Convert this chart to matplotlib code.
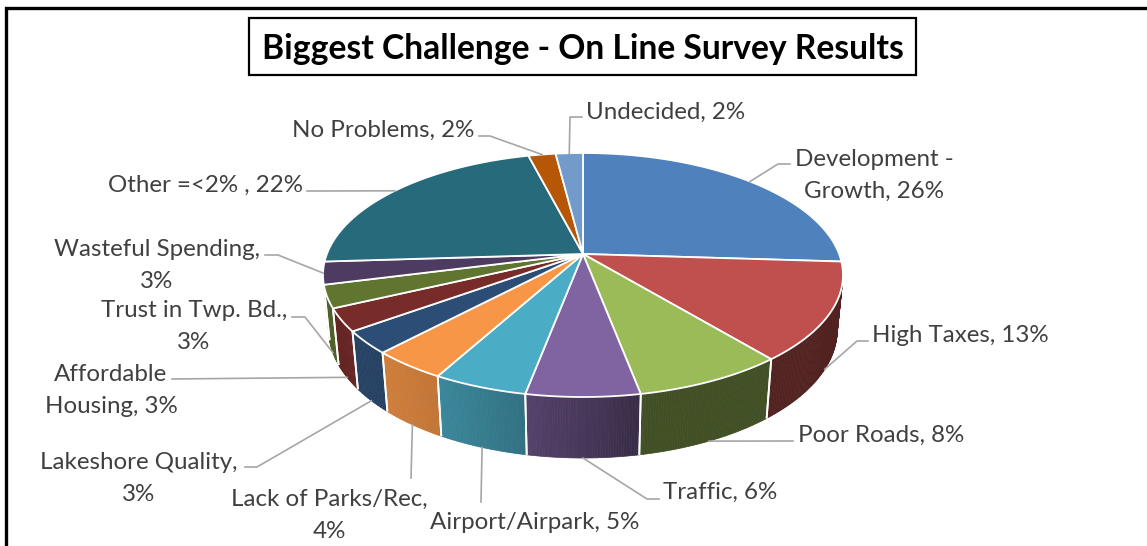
import numpy as np
import matplotlib
matplotlib.use("Agg")
import matplotlib.pyplot as plt
from matplotlib.patches import Polygon, Rectangle
from matplotlib.colors import to_rgb

# ---------------- data ----------------
categories = ["Development - Growth", "High Taxes", "Poor Roads", "Traffic",
              "Airport/Airpark", "Lack of Parks/Rec,", "Lakeshore Quality",
              "Affordable Housing", "Trust in Twp. Bd.", "Wasteful Spending",
              "Other =<2% ", "No Problems", "Undecided"]
shares = [26, 13, 8, 6, 5, 4, 3, 3, 3, 3, 22, 2, 2]
title = "Biggest Challenge - On Line Survey Results"

# ---------------- style ----------------
colors = ["#4F81BD", "#C0504D", "#9BBB59", "#8064A2", "#4BACC6", "#F79646",
          "#2C4D75", "#772C2A", "#5F7530", "#4D3B62", "#276A7C", "#B65708",
          "#729ACA"]
TEXT_C = "#404040"
LEADER_C = "#A6A6A6"

# label layout: x, y of first line (pixels), alignment, words on first line
# (0 = single line), leader start point, optional leader elbow
label_layout = [
    (874, 157, "center", 2, (790, 164), (778, 164)),
    (872, 333, "left", 0, (868, 341), (857, 341)),
    (798, 433, "left", 0, (793, 441), None),
    (663, 490, "left", 0, (659, 499), (647, 499)),
    (535, 520, "center", 0, (481, 502), None),
    (329, 497, "center", 3, (411, 478), None),
    (139, 460, "center", 2, (245, 467), (257, 467)),
    (111, 372, "center", 1, (172, 379), None),
    (194, 308, "center", 4, (292, 317), (305, 317)),
    (157, 247, "center", 2, (265, 255), (278, 255)),
    (303, 183, "right", 0, (307, 191), (318, 191)),
    (474, 128, "right", 0, (479, 136), (490, 136)),
    (586, 110, "left", 0, (582, 117), (570, 117)),
]
LINE_PX = 32

# pie placement in pixels
CX, CY = 583, 254        # projected centre of the top face
TOP_Y, FRONT_Y = 153, 397
HALF_W = 260
BASE_Y = 458             # lower edge of the side wall at the front

plt.rcParams["font.family"] = ["Lato", "DejaVu Sans"]

fig = plt.figure(figsize=(11.47, 5.46), dpi=100)
ax = fig.add_axes([0, 0, 1, 1])
ax.set_xlim(0, 1147)
ax.set_ylim(546, 0)
ax.axis("off")
renderer = fig.canvas.get_renderer()


def fitted_size(text, width_px, **kw):
    t = fig.text(0, 0, text, fontsize=20, **kw)
    w = t.get_window_extent(renderer).width
    t.remove()
    return 20.0 * width_px / w


# ---- perspective camera solved from the placement ----
B = CY - TOP_Y
F = FRONT_Y - CY
r = B / F
s = np.sqrt(B * F) / HALF_W          # sin(elevation)
c = np.sqrt(1 - s * s)
D = c * (1 + r) / (1 - r)            # camera distance (unit radius)
K = HALF_W * np.sqrt(D * D - c * c)
G = BASE_Y - CY
h = (G * (D - c) - K * s) / (K * c - G * s)   # wall height


def project(theta, z, rad=1.0):
    x = rad * np.sin(theta)
    y = rad * np.cos(theta)
    v = y * s + z * c
    w = y * c - z * s + D
    return CX + K * x / w, CY - K * v / w


def shade(col, theta):
    f = max(0.42, 0.15 + 0.7 * np.cos(theta - np.radians(235)))
    return tuple(np.array(to_rgb(col)) * f)


fr = np.array(shares, float) / np.sum(shares)
edges = np.concatenate([[0.0], np.cumsum(fr)]) * 2 * np.pi
vis_lo = np.arccos(-1.0 / (D * c))
vis_hi = 2 * np.pi - vis_lo

# side wall
for i in range(len(shares)):
    a0, a1 = edges[i], edges[i + 1]
    lo, hi = max(a0, vis_lo), min(a1, vis_hi)
    if hi <= lo:
        continue
    n = max(2, int(np.degrees(hi - lo) / 0.5))
    ts = np.linspace(lo, hi, n + 1)
    for t0, t1 in zip(ts[:-1], ts[1:]):
        quad = [project(t0, 0), project(t1, 0), project(t1, -h), project(t0, -h)]
        col = shade(colors[i], 0.5 * (t0 + t1))
        ax.add_patch(Polygon(quad, closed=True, fc=col, ec=col, lw=0.5, zorder=2))
    for a in (a0, a1):
        if vis_lo < a < vis_hi:
            p, q = project(a, 0), project(a, -h)
            ax.plot([p[0], q[0]], [p[1], q[1]], color="white", lw=1.3,
                    zorder=3, solid_capstyle="butt")

# top face
for i in range(len(shares)):
    a0, a1 = edges[i], edges[i + 1]
    n = max(3, int(np.degrees(a1 - a0) / 0.5))
    ts = np.linspace(a0, a1, n + 1)
    pts = [project(0, 0, 0.0)] + [project(t, 0) for t in ts]
    ax.add_patch(Polygon(pts, closed=True, fc=colors[i], ec="white", lw=1.3,
                         joinstyle="round", zorder=4))

# labels and leader lines
label_fs = fitted_size("Airport/Airpark, 5%", 210)
cap_half = 0.36 * label_fs * 100 / 72
for i, (x, y, ha, nfirst, start, elbow) in enumerate(label_layout):
    words = f"{categories[i].rstrip(',')}, {shares[i]}%".split(" ")
    if categories[i].endswith(" "):
        words = f"{categories[i]}, {shares[i]}%".split(" ")
    lines = [" ".join(words[:nfirst]), " ".join(words[nfirst:])] if nfirst else [" ".join(words)]
    for j, line in enumerate(lines):
        ax.text(x, y + j * LINE_PX + cap_half, line, ha=ha, va="baseline",
                fontsize=label_fs, color=TEXT_C, zorder=7)
    mid = 0.5 * (edges[i] + edges[i + 1])
    anchor = project(mid, -h) if vis_lo < mid < vis_hi else project(mid, 0)
    path = [start] + ([elbow] if elbow else []) + [anchor]
    xs, ys = zip(*path)
    ax.plot(xs, ys, color=LEADER_C, lw=1.2, zorder=6)

# title box
ax.add_patch(Rectangle((249, 18), 667, 57, fill=True, fc="white", ec="black",
                       lw=1.6, zorder=8))
title_fs = fitted_size(title, 643, fontweight="bold")
ax.text(582.5, 46.5 + 0.36 * title_fs * 100 / 72, title, ha="center",
        va="baseline", fontsize=title_fs, fontweight="bold", color="black",
        zorder=9)

# outer frame (left and top edges)
ax.plot([6, 6, 1150], [560, 8, 8], color="black", lw=2.4,
        solid_joinstyle="miter", clip_on=False, zorder=10)

fig.savefig("out.png", dpi=100)
